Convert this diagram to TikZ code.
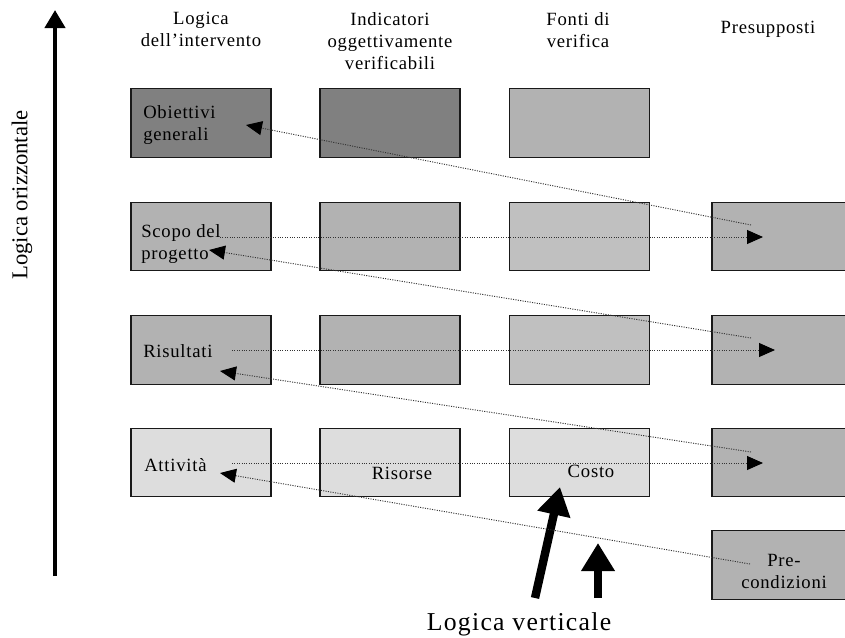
\documentclass[tikz,border=0pt]{standalone}
\usepackage{fontspec}
\setmainfont{Liberation Serif}[LetterSpace=4]
\newfontfamily\plainserif{Liberation Serif}
\usetikzlibrary{arrows.meta}

\definecolor{boxdark}{HTML}{808080}
\definecolor{boxmid}{HTML}{B2B2B2}
\definecolor{boxsrc}{HTML}{C0C0C0}
\definecolor{boxlight}{HTML}{DDDDDD}

\begin{document}
\begin{tikzpicture}[x=0.75pt,y=-0.75pt,
  cell/.style={draw=black!90, line width=0.9pt, minimum width=105pt,
    minimum height=51.5pt, inner sep=0pt},
  txt/.style={font=\fontsize{14}{16.5}\selectfont, inner sep=0pt},
  link/.style={draw=black!80, line width=0.7pt, dash pattern=on 0.8pt off 1pt,
    -{Triangle[length=12pt,width=10.5pt,black]}},
  bigarrow/.style={line width=6.3pt, -{Triangle[length=21pt,width=24pt]}},
]
\useasboundingbox (0,0) rectangle (845,637);
\clip (0,0) rectangle (845,637);

% column headings
\node[txt, align=center, anchor=north] (h1) at (201,12) {Logica\\dell’intervento};
\node[txt, align=center, anchor=north] (h2) at (390,12) {Indicatori\\oggettivamente\\verificabili};
\node[txt, align=center, anchor=north] (h3) at (578,12) {Fonti di\\verifica};
\node[txt, anchor=base] (h4) at (768,33) {Presupposti};

% logframe cells
\node[cell, fill=boxdark]  (r1c1) at (201,123) {};
\node[cell, fill=boxdark]  (r1c2) at (390,123) {};
\node[cell, fill=boxmid]   (r1c3) at (579.5,123) {};

\node[cell, fill=boxmid]   (r2c1) at (201,236.5) {};
\node[cell, fill=boxmid]   (r2c2) at (390,236.5) {};
\node[cell, fill=boxsrc]   (r2c3) at (579.5,236.5) {};
\node[cell, fill=boxmid]   (r2c4) at (782,236.5) {};

\node[cell, fill=boxmid]   (r3c1) at (201,350) {};
\node[cell, fill=boxmid]   (r3c2) at (390,350) {};
\node[cell, fill=boxsrc]   (r3c3) at (579.5,350) {};
\node[cell, fill=boxmid]   (r3c4) at (782,350) {};

\node[cell, fill=boxlight] (r4c1) at (201,462.5) {};
\node[cell, fill=boxlight] (r4c2) at (390,462.5) {};
\node[cell, fill=boxlight] (r4c3) at (579.5,462.5) {};
\node[cell, fill=boxmid]   (r4c4) at (782,462.5) {};

\node[cell, fill=boxmid]   (r5c4) at (782,565) {};

% cell texts
\node[txt, align=left, anchor=north west] (lob) at (143,105) {Obiettivi\\generali};
\node[txt, align=left, anchor=north west] (lsc) at (141,224) {Scopo del\\progetto};
\node[txt, anchor=base west] (lri) at (143,357) {Risultati};
\node[txt, anchor=base west] (lat) at (144,471) {Attività};
\node[txt, anchor=base] (lrs) at (402,479) {Risorse};
\node[txt, anchor=base] (lco) at (591,477) {Costo};
\node[txt, align=center, anchor=north] (lpc) at (784,554) {Pre-\\condizioni};

% axis labels
\node[inner sep=0pt, rotate=90, font=\plainserif\fontsize{17}{20}\selectfont]
  (lor) at (22,195) {Logica orizzontale};
\node[inner sep=0pt, anchor=base,
  font=\fontsize{19.3}{23}\selectfont\addfontfeature{LetterSpace=5}]
  (lve) at (519,630) {Logica verticale};

% end points of the connectors
\coordinate (va0) at (55,576);   \coordinate (va1) at (55,10);
\coordinate (ba0) at (535,598);  \coordinate (ba1) at (560,487);
\coordinate (bb0) at (598,598);  \coordinate (bb1) at (598,543);

\coordinate (s1) at (751,225);   \coordinate (t1) at (246,125);
\coordinate (s2) at (220,237);   \coordinate (t2) at (763,237);
\coordinate (s3) at (751,338);   \coordinate (t3) at (209,250);
\coordinate (s4) at (232,350);   \coordinate (t4) at (775,350);
\coordinate (s5) at (751,452);   \coordinate (t5) at (220,371);
\coordinate (s6) at (232,463);   \coordinate (t6) at (763,463);
\coordinate (s7) at (750,564);   \coordinate (t7) at (220,473);

% horizontal logic axis
\draw[line width=3.2pt, -{Triangle[length=13.5pt,width=15pt]}] (va0) -- (va1);

% vertical logic arrows
\draw[bigarrow] (ba0) -- (ba1);
\draw[bigarrow] (bb0) -- (bb1);

% dotted links between the rows and the assumptions
\draw[link] (s1) -- (t1);
\draw[link] (s2) -- (t2);
\draw[link] (s3) -- (t3);
\draw[link] (s4) -- (t4);
\draw[link] (s5) -- (t5);
\draw[link] (s6) -- (t6);
\draw[link] (s7) -- (t7);
\end{tikzpicture}
\end{document}
